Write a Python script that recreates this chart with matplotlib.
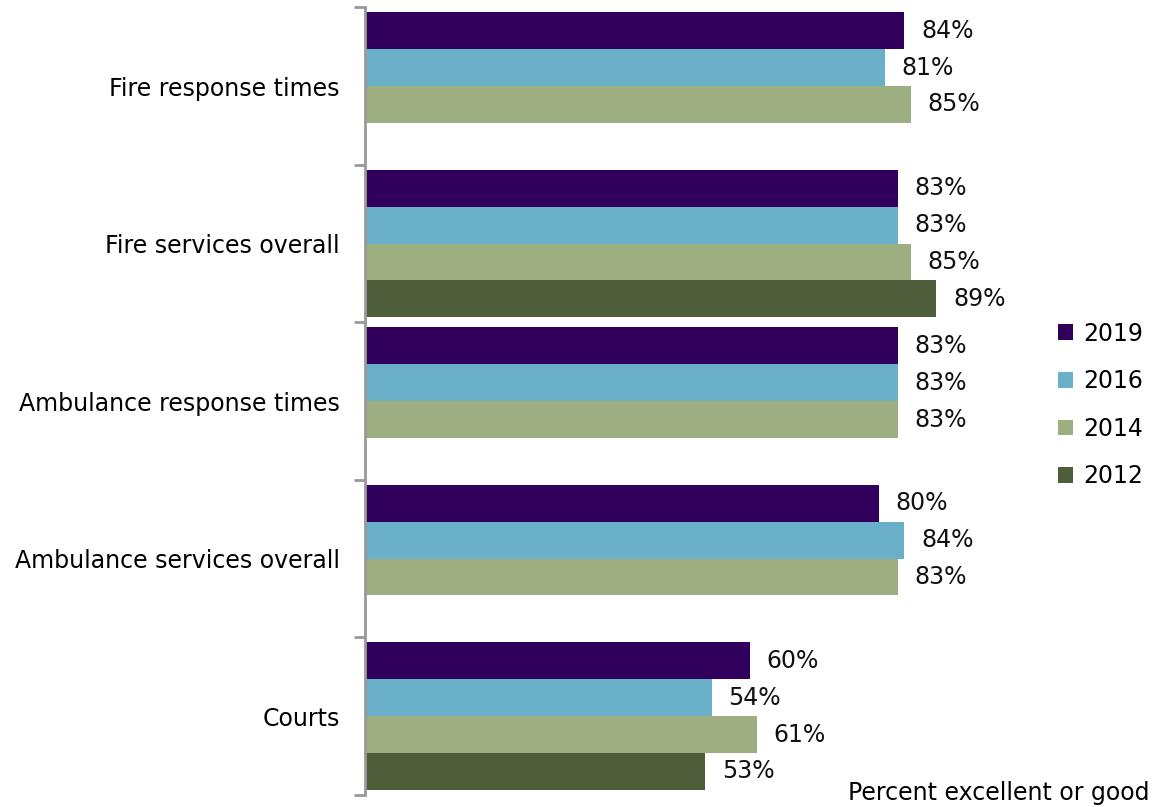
# Horizontal grouped bars: ratings of public services by survey year
import numpy as np
import matplotlib.pyplot as plt

# Categories top to bottom
categories = ['Fire response times', 'Fire services overall', 'Ambulance response times',
              'Ambulance services overall', 'Courts']
years = ['2019', '2016', '2014', '2012']
# Percent excellent or good (None = not asked that year)
v2019 = [84, 83, 83, 80, 60]
v2016 = [81, 83, 83, 84, 54]
v2014 = [85, 85, 83, 83, 61]
v2012 = [None, 89, None, None, 53]
series = [v2019, v2016, v2014, v2012]
colors = ['#30005c', '#6ab0c9', '#9daf80', '#4e5e3b']

plt.rcParams['font.family'] = ['DejaVu Sans']
fs = 17

fig = plt.figure(figsize=(11.56, 8.07), dpi=100)
ax = fig.add_axes([0.3157, 0.015, 0.5554, 0.976])

y = np.arange(len(categories))
h = 0.234
offsets = [-1.5 * h, -0.5 * h, 0.5 * h, 1.5 * h]

for vals, yr, col, off in zip(series, years, colors, offsets):
    idx = [i for i, v in enumerate(vals) if v is not None]
    w = [vals[i] for i in idx]
    bars = ax.barh(y[idx] + off, w, height=h, color=col, label=yr)
    ax.bar_label(bars, labels=['%d%%' % v for v in w], padding=12, fontsize=fs,
                 color='#111111', clip_on=False)

ax.set_ylim(len(categories) - 0.5, -0.5)
ax.set_xlim(0, 100)

# category names at group centres, tick marks at group edges
ax.set_yticks(y)
ax.set_yticklabels(categories, fontsize=fs)
ax.tick_params(axis='y', which='major', length=0, pad=18)
ax.set_yticks(np.arange(-0.5, len(categories)), minor=True)
ax.tick_params(axis='y', which='minor', length=8, width=2, color='#999999')

ax.set_xticks([])
for s in ['top', 'right', 'bottom']:
    ax.spines[s].set_visible(False)
ax.spines['left'].set_color('#999999')
ax.spines['left'].set_linewidth(2)

ax.legend(loc='center left', bbox_to_anchor=(1.064, 0.495),
          frameon=False, fontsize=fs, handlelength=0.65, handleheight=0.65,
          handletextpad=0.45, labelspacing=1.0, borderaxespad=0)

fig.text(0.994, 0.003, 'Percent excellent or good', ha='right', va='bottom', fontsize=fs)

fig.savefig('out.png')
